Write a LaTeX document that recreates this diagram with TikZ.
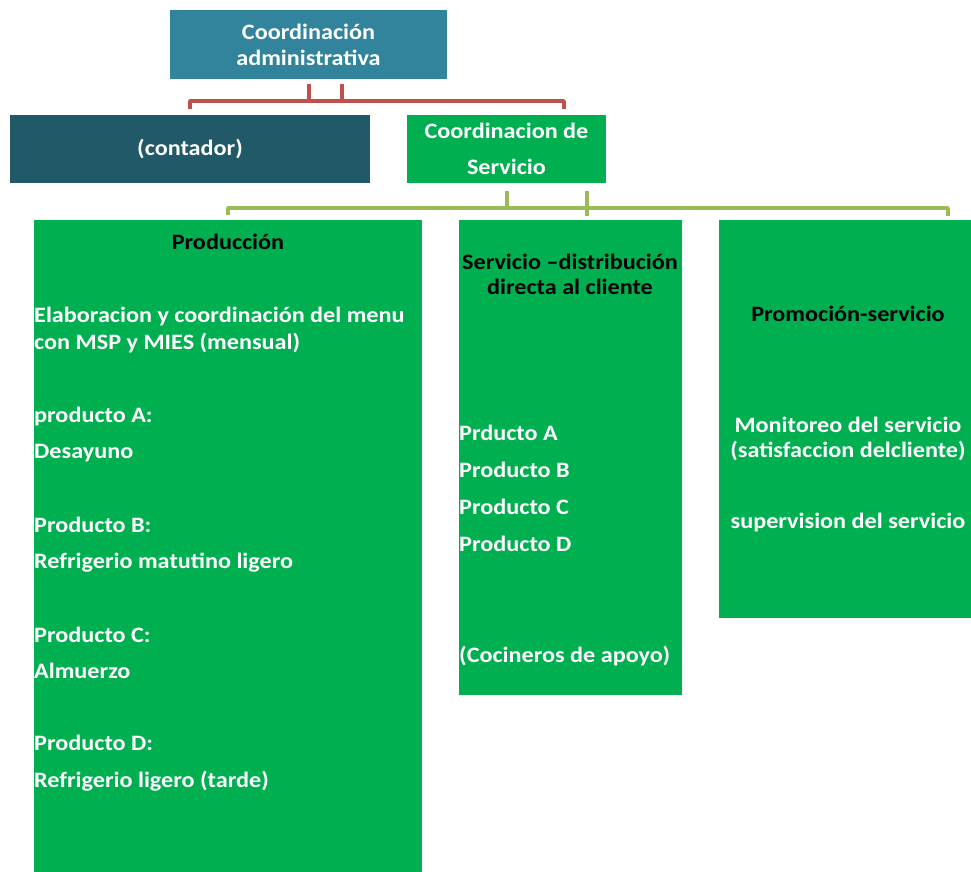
\documentclass[tikz,border=0pt]{standalone}
\usepackage{fontspec}
\setmainfont[FakeStretch=1.1]{Carlito}
\definecolor{tealtop}{HTML}{31849B}
\definecolor{tealdark}{HTML}{215968}
\definecolor{boxgreen}{HTML}{00B050}
\definecolor{conred}{HTML}{C0504D}
\definecolor{congreen}{HTML}{9BBB59}
\tikzset{
  orgbox/.style={anchor=north west, inner sep=0pt, outer sep=0pt, text=white, align=center},
  txt/.style={inner sep=0pt, text=white, align=left},
  head/.style={inner sep=0pt, text=black, align=center},
  redcon/.style={draw=conred, line width=3.5pt},
  greencon/.style={draw=congreen, line width=3.5pt}
}
\begin{document}
\begin{tikzpicture}[x=1pt, y=-1pt, font=\bfseries\fontsize{22}{26}\selectfont, line join=round]
			\useasboundingbox (0,0) rectangle (971,872);
			% top level
			\node[orgbox, fill=tealtop, minimum width=277pt, minimum height=69pt] (adm) at (170,10) {Coordinación\\administrativa};
			\node[orgbox, fill=tealdark, minimum width=360pt, minimum height=68pt] (cont) at (10,115) {(contador)};
			\node[orgbox, fill=boxgreen, minimum width=199pt, minimum height=68pt, font=\bfseries\fontsize{22}{36}\selectfont] (coord) at (407,115) {Coordinacion de\\Servicio};
			% second level
			\node[orgbox, fill=boxgreen, minimum width=388pt, minimum height=660pt] (prod) at (34,220) {};
			\node[orgbox, fill=boxgreen, minimum width=223pt, minimum height=475pt] (serv) at (459,220) {};
			\node[orgbox, fill=boxgreen, minimum width=252pt, minimum height=398pt] (prom) at (719,220) {};
			% connectors
			\coordinate (rl) at (190,101);
			\coordinate (rr) at (564,101);
			\draw[redcon] (309,84) -- (309,101);
			\draw[redcon] (342,84) -- (342,101);
			\draw[redcon] ([yshift=6pt]cont.north) -- (rl) -- (rr) -- (564,109);
			\coordinate (gl) at (prod.north |- 0,208);
			\coordinate (gr) at (948,208);
			\draw[greencon] (507,191) -- (507,208);
			\draw[greencon] (587,191) -- (587,208) -- (587,216);
			\draw[greencon] ([yshift=5pt]prod.north) -- (gl) -- (gr) -- (948,216);
			% Produccion (base = last line)
			\node[head, anchor=base] (tprod) at (228,249) {Producción};
			\node[txt, anchor=base west, font=\bfseries\fontsize{22}{27}\selectfont] (tmenu) at (34,349) {Elaboracion y coordinación del menu\\con MSP y MIES (mensual)};
			\node[txt, anchor=base west, font=\bfseries\fontsize{22}{36}\selectfont] (tpa) at (34,458) {producto A:\\Desayuno};
			\node[txt, anchor=base west, font=\bfseries\fontsize{22}{36}\selectfont] (tpb) at (34,568) {Producto B:\\Refrigerio matutino ligero};
			\node[txt, anchor=base west, font=\bfseries\fontsize{22}{36}\selectfont] (tpc) at (34,678) {Producto C:\\Almuerzo};
			\node[txt, anchor=base west, font=\bfseries\fontsize{22}{37}\selectfont] (tpd) at (34,787) {Producto D:\\Refrigerio ligero (tarde)};
			% Servicio
			\node[head, anchor=base, font=\bfseries\fontsize{22}{25}\selectfont] (tserv) at (570,294) {Servicio –distribución\\directa al cliente};
			\node[txt, anchor=base west, font=\bfseries\fontsize{22}{36.7}\selectfont] (tlist) at (459,551) {Prducto A\\Producto B\\Producto C\\Producto D};
			\node[txt, anchor=base west] (tcoc) at (459,662) {(Cocineros de apoyo)};
			% Promocion
			\node[head, anchor=base] (tprom) at (848,321) {Promoción-servicio};
			\node[txt, anchor=base, align=center, font=\bfseries\fontsize{22}{25}\selectfont] (tmon) at (848,457) {Monitoreo del servicio\\(satisfaccion delcliente)};
			\node[txt, anchor=base] (tsup) at (848,528) {supervision del servicio};
	\end{tikzpicture}
\end{document}
